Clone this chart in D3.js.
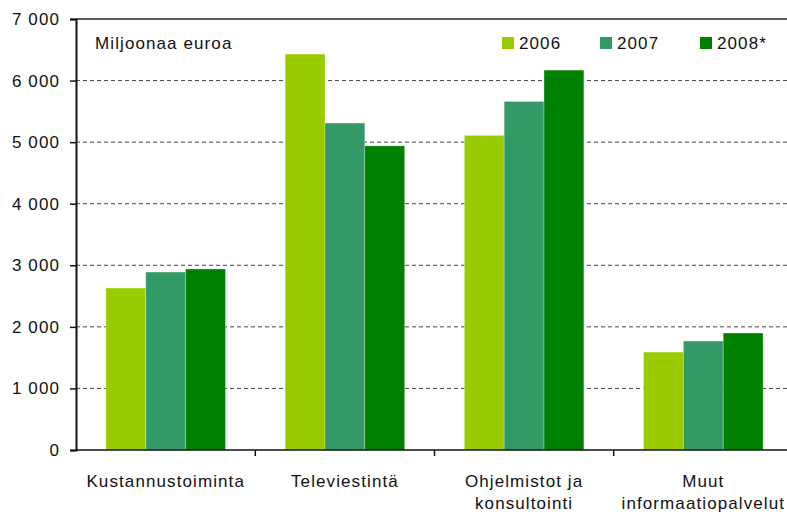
<!DOCTYPE html>
<html>
<head>
<meta charset="utf-8">
<script src="https://cdn.jsdelivr.net/npm/d3@7"></script>
<style>
  body { margin: 0; background: #fff; }
  svg text { font-family: "Liberation Sans", Arial, sans-serif; fill: #111; letter-spacing: 1.1px; }
</style>
</head>
<body>
<div id="main"><svg width="787" height="515"></svg></div>
<script>
var categories = [['Kustannustoiminta'], ['Televiestintä'], ['Ohjelmistot ja', 'konsultointi'], ['Muut', 'informaatiopalvelut']]
var years = ['2006', '2007', '2008*']
var v2006 = [2630, 6430, 5110, 1590]
var v2007 = [2890, 5310, 5660, 1770]
var v2008 = [2940, 4940, 6170, 1900]
var yTicks = [0, 1000, 2000, 3000, 4000, 5000, 6000, 7000]
var colors = ['#99cc00', '#339966', '#008000']

var series = [v2006, v2007, v2008]
var config = { left: 76, right: 793, top: 19, bottom: 450 }

var svg = d3.select('#main svg')

var x0 = d3.scaleBand()
  .domain(categories.map((c, i) => i))
  .range([config.left, config.right])
  .paddingInner(0.333)
  .paddingOuter(0.167)

var x1 = d3.scaleBand()
  .domain(years)
  .range([0, x0.bandwidth()])

var y = d3.scaleLinear()
  .domain([0, 7000])
  .range([config.bottom, config.top])

var fmt = d => d3.format(',')(d).replace(/,/g, ' ')

// gridlines
svg.append('g')
  .selectAll('line')
  .data(yTicks.filter(d => d > 0 && d < 7000))
  .enter().append('line')
  .attr('x1', config.left).attr('x2', config.right)
  .attr('y1', d => y(d)).attr('y2', d => y(d))
  .attr('stroke', '#444')
  .attr('stroke-dasharray', '4,3')

// top border
svg.append('line')
  .attr('x1', config.left).attr('x2', config.right)
  .attr('y1', y(7000)).attr('y2', y(7000))
  .attr('stroke', '#222').attr('stroke-width', 1.5)

// bars
var groups = svg.append('g').selectAll('g')
  .data(categories)
  .enter().append('g')
  .attr('transform', (d, i) => `translate(${x0(i)},0)`)

groups.selectAll('rect')
  .data((d, i) => years.map((yr, k) => ({ yr: yr, k: k, v: series[k][i] })))
  .enter().append('rect')
  .attr('x', d => x1(d.yr))
  .attr('width', x1.bandwidth())
  .attr('y', d => y(d.v))
  .attr('height', d => y(0) - y(d.v))
  .attr('fill', d => colors[d.k])
  .attr('stroke', 'rgba(255,255,255,0.35)')
  .attr('stroke-width', 0.8)

// y axis
var yAxis = svg.append('g')
  .attr('transform', `translate(${config.left},0)`)
  .call(d3.axisLeft(y).tickValues(yTicks).tickFormat(fmt).tickSize(6).tickPadding(10))
yAxis.select('.domain').attr('stroke', '#111').attr('stroke-width', 2)
yAxis.selectAll('.tick line').attr('stroke', '#111').attr('stroke-width', 1.5)
yAxis.selectAll('text').style('font-size', '17px').attr('fill', '#111')

// x axis
var xAxis = svg.append('g')
  .attr('transform', `translate(0,${config.bottom})`)
xAxis.append('line')
  .attr('x1', config.left).attr('x2', config.right)
  .attr('stroke', '#111').attr('stroke-width', 1.5)
xAxis.selectAll('line.sep')
  .data(categories.slice(1))
  .enter().append('line')
  .attr('class', 'sep')
  .attr('x1', (d, i) => x0(i + 1) - x0.step() * x0.paddingInner() / 2)
  .attr('x2', (d, i) => x0(i + 1) - x0.step() * x0.paddingInner() / 2)
  .attr('y1', 0).attr('y2', 6)
  .attr('stroke', '#111').attr('stroke-width', 1.5)

var labels = xAxis.selectAll('text.cat')
  .data(categories)
  .enter().append('text')
  .attr('class', 'cat')
  .attr('text-anchor', 'middle')
  .style('font-size', '17px')
  .attr('transform', (d, i) => `translate(${x0(i) + x0.bandwidth() / 2},37)`)
labels.selectAll('tspan')
  .data(d => d)
  .enter().append('tspan')
  .attr('x', 0)
  .attr('dy', (d, i) => i === 0 ? 0 : 22)
  .text(d => d)

// unit label
svg.append('text')
  .attr('x', 95).attr('y', 49)
  .style('font-size', '17px')
  .text('Miljoonaa euroa')

// legend
var legendX = [502, 600, 700]
var legend = svg.append('g').selectAll('g')
  .data(years)
  .enter().append('g')
  .attr('transform', (d, i) => `translate(${legendX[i]},37)`)
legend.append('rect')
  .attr('width', 12).attr('height', 12)
  .attr('fill', (d, i) => colors[i])
legend.append('text')
  .attr('x', 17).attr('y', 12)
  .style('font-size', '17px')
  .text(d => d)
</script>
</body>
</html>
